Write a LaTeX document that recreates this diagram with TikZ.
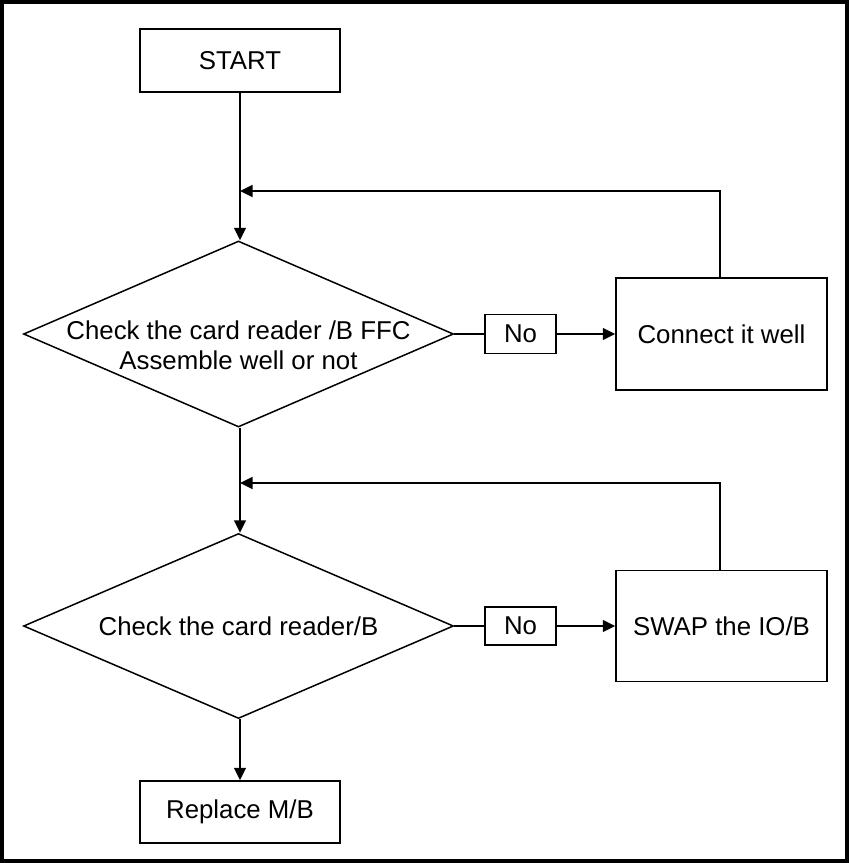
\documentclass[tikz,border=0pt]{standalone}
\usepackage{fontspec}
\setmainfont{Liberation Sans}
\usetikzlibrary{positioning, arrows.meta, shapes.geometric}

\begin{document}
\begin{tikzpicture}[
    x=1pt, y=-1pt,
    box/.style={rectangle, draw, line width=1.5pt, inner sep=0pt, align=center, font=\fontsize{25.8}{30.5}\selectfont},
    check/.style={diamond, draw, line width=1.5pt, inner sep=0pt, minimum width=430pt, minimum height=186pt},
    label/.style={inner sep=0pt, align=center, font=\fontsize{25.8}{30.5}\selectfont},
    arrow/.style={-{Triangle[length=12.5pt, width=12pt]}, line width=1.5pt},
    link/.style={line width=1.5pt}
]

\useasboundingbox (0,0) rectangle (849,863);
\draw[line width=3.6pt] (2,2) rectangle (847,861);

\node[box, minimum width=200pt, minimum height=63pt] (start) at (240, 60.5) {START};

\node[check] (chk1) at (238.5, 334) {};
\node[label] (chk1txt) at (238.5, 345.5) {Check the card reader /B FFC\\Assemble well or not};
\node[box, minimum width=71pt, minimum height=39pt] (no1) at (520.5, 334) {No};
\node[box, minimum width=211pt, minimum height=112pt] (conn) at (721.5, 334) {Connect it well};
\coordinate (join1) at (240, 191);

\node[check, minimum height=185pt] (chk2) at (238.5, 626) {};
\node[label] (chk2txt) at (238.5, 626.5) {Check the card reader/B};
\node[box, minimum width=71pt, minimum height=38pt] (no2) at (520.5, 626) {No};
\node[box, minimum width=211pt, minimum height=111pt] (swap) at (721.5, 626) {SWAP the IO/B};
\coordinate (join2) at (240, 483);

\node[box, minimum width=200pt, minimum height=62pt] (repl) at (240, 812) {Replace M/B};

\draw[arrow] (start.south) -- (chk1.north -| start.south);
\draw[arrow] ([xshift=-1.5pt]conn.north) |- (join1);
\draw[link] (chk1.east) -- (no1.west);
\draw[arrow] (no1.east) -- (conn.west);

\draw[arrow] (chk1.south -| start.south) -- (chk2.north -| start.south);
\draw[arrow] ([xshift=-1.5pt]swap.north) |- (join2);
\draw[link] (chk2.east) -- (no2.west);
\draw[arrow] (no2.east) -- (swap.west);

\draw[arrow] (chk2.south -| start.south) -- (repl.north);

\end{tikzpicture}
\end{document}
